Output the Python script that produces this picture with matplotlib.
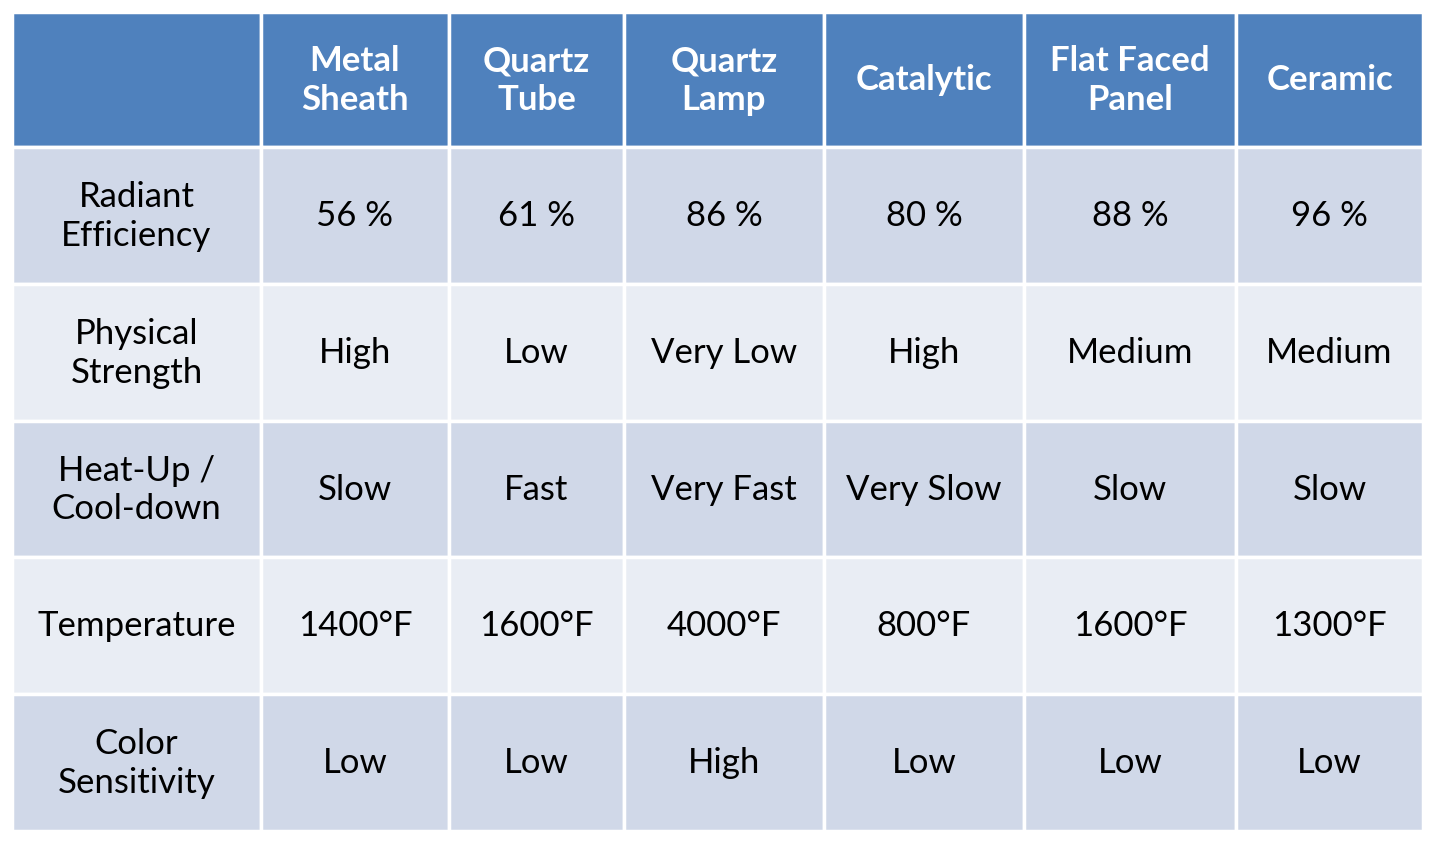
import matplotlib
matplotlib.use("Agg")
import matplotlib.pyplot as plt
from matplotlib.patches import Rectangle

columns = ["Metal\nSheath", "Quartz\nTube", "Quartz\nLamp", "Catalytic", "Flat Faced\nPanel", "Ceramic"]
row_labels = ["Radiant\nEfficiency", "Physical\nStrength", "Heat-Up /\nCool-down", "Temperature", "Color\nSensitivity"]
efficiency = ["56 %", "61 %", "86 %", "80 %", "88 %", "96 %"]
strength = ["High", "Low", "Very Low", "High", "Medium", "Medium"]
heatup = ["Slow", "Fast", "Very Fast", "Very Slow", "Slow", "Slow"]
temperature = ["1400°F", "1600°F", "4000°F", "800°F", "1600°F", "1300°F"]
color_sens = ["Low", "Low", "High", "Low", "Low", "Low"]
rows = [efficiency, strength, heatup, temperature, color_sens]

xe = [12, 261, 449, 624, 824, 1024, 1236, 1423]
ye = [13, 148, 285, 422, 558, 695, 832]

fig = plt.figure(figsize=(14.36, 8.45), dpi=100)
ax = fig.add_axes([0, 0, 1, 1])
ax.set_xlim(0, 1436); ax.set_ylim(845, 0); ax.axis("off")
fam = ["Lato", "DejaVu Sans"]

def cell(r, c, color):
    ax.add_patch(Rectangle((xe[c], ye[r]), xe[c+1]-xe[c], ye[r+1]-ye[r],
                           facecolor=color, edgecolor="white", linewidth=2.5))

for c in range(7):
    cell(0, c, "#4F81BD")
for c, t in enumerate(columns):
    ax.text((xe[c+1]+xe[c+2])/2, (ye[0]+ye[1])/2, t, ha="center", va="center",
            fontsize=25, fontweight="bold", color="white", family=fam, linespacing=1.25)
for r in range(5):
    bg = "#D0D8E8" if r % 2 == 0 else "#E9EDF4"
    for c in range(7):
        cell(r+1, c, bg)
    cy = (ye[r+1]+ye[r+2])/2
    ax.text((xe[0]+xe[1])/2, cy, row_labels[r], ha="center", va="center",
            fontsize=25, color="black", family=fam, linespacing=1.25)
    for c, v in enumerate(rows[r]):
        ax.text((xe[c+1]+xe[c+2])/2, cy, v, ha="center", va="center",
                fontsize=25, color="black", family=fam)

fig.savefig("out.png", dpi=100, facecolor="white")
